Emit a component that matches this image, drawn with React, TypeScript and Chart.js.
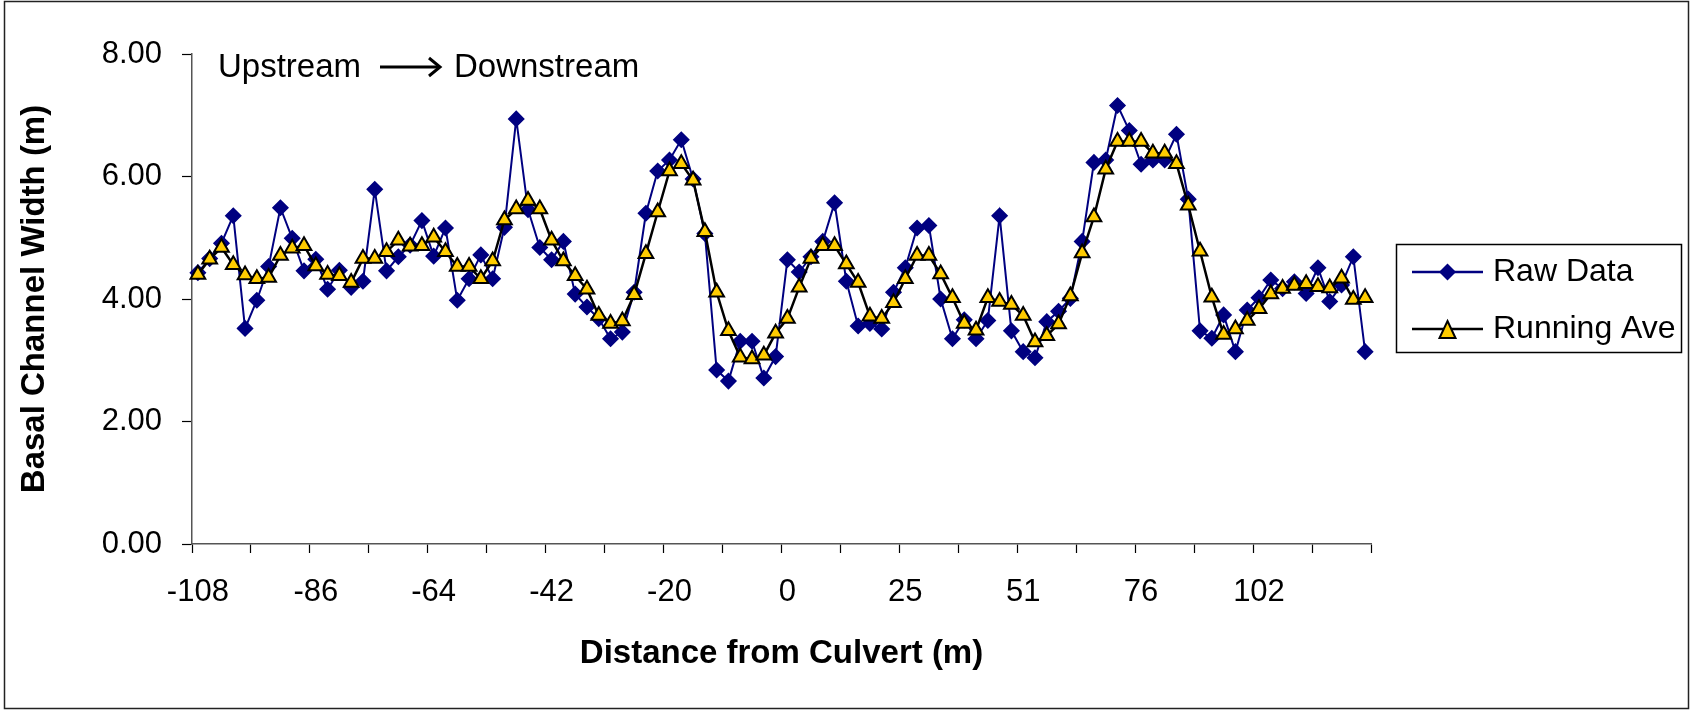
import React, { useEffect, useRef } from 'react';
import { Chart, registerables } from 'chart.js';

Chart.register(...registerables);

// Category labels: distance from culvert (m)
const distances = [
  -108, -106, -104, -101, -99, -97, -95, -93, -90, -88,
  -86, -84, -82, -79, -77, -75, -73, -71, -68, -66,
  -64, -62, -60, -57, -55, -53, -51, -49, -46, -44,
  -42, -40, -38, -35, -33, -31, -29, -27, -24, -22,
  -20, -18, -16, -14, -12, -10, -8, -6, -4, -2,
  0, 3, 5, 8, 10, 13, 15, 18, 20, 23,
  25, 28, 30, 33, 36, 38, 41, 43, 46, 48,
  51, 53, 56, 58, 61, 63, 66, 68, 71, 73,
  76, 79, 81, 84, 86, 89, 91, 94, 97, 99,
  102, 104, 107, 109, 112, 114, 117, 119, 122, 124,
];

const rawData = [
  4.43, 4.66, 4.91, 5.36, 3.52, 3.98, 4.53, 5.49, 4.99, 4.46,
  4.65, 4.16, 4.47, 4.19, 4.29, 5.79, 4.46, 4.69, 4.88, 5.28,
  4.70, 5.16, 3.98, 4.33, 4.72, 4.33, 5.17, 6.94, 5.46, 4.84,
  4.64, 4.94, 4.08, 3.87, 3.68, 3.35, 3.46, 4.11, 5.40, 6.09,
  6.27, 6.60, 5.96, 5.07, 2.84, 2.66, 3.31, 3.31, 2.71, 3.06,
  4.64, 4.44, 4.69, 4.94, 5.57, 4.29, 3.56, 3.60, 3.51, 4.11,
  4.51, 5.16, 5.20, 4.00, 3.35, 3.66, 3.35, 3.65, 5.36, 3.48,
  3.14, 3.04, 3.63, 3.80, 4.01, 4.94, 6.23, 6.27, 7.16, 6.75,
  6.20, 6.27, 6.27, 6.69, 5.63, 3.48, 3.36, 3.74, 3.14, 3.82,
  4.02, 4.31, 4.17, 4.28, 4.09, 4.51, 3.96, 4.23, 4.69, 3.14,
];

const runningAve = [
  4.40, 4.65, 4.84, 4.56, 4.39, 4.33, 4.35, 4.71, 4.83, 4.87,
  4.54, 4.40, 4.38, 4.27, 4.66, 4.66, 4.77, 4.96, 4.86, 4.87,
  5.01, 4.77, 4.53, 4.53, 4.33, 4.62, 5.29, 5.47, 5.61, 5.47,
  4.96, 4.62, 4.38, 4.16, 3.73, 3.60, 3.64, 4.07, 4.74, 5.42,
  6.09, 6.21, 5.94, 5.10, 4.11, 3.48, 3.05, 3.02, 3.08, 3.44,
  3.68, 4.19, 4.66, 4.87, 4.87, 4.57, 4.27, 3.72, 3.68, 3.94,
  4.33, 4.71, 4.71, 4.41, 4.02, 3.60, 3.49, 4.02, 3.96, 3.91,
  3.73, 3.30, 3.40, 3.59, 4.05, 4.75, 5.34, 6.12, 6.57, 6.57,
  6.57, 6.38, 6.38, 6.21, 5.53, 4.78, 4.03, 3.42, 3.51, 3.65,
  3.84, 4.08, 4.17, 4.22, 4.25, 4.20, 4.18, 4.34, 3.99, 4.02,
];

const seriesNames = ['Raw Data', 'Running Ave'];
const xTitle = 'Distance from Culvert (m)';
const yTitle = 'Basal Channel Width (m)';
const noteLeft = 'Upstream';
const noteRight = 'Downstream';

const FONT = '"Liberation Sans", Arial, sans-serif';
const NAVY = '#000080';
const GOLD = '#FFCC00';

const decorPlugin = {
  id: 'decor',
  afterDraw(chart: any) {
    const ctx = chart.ctx as CanvasRenderingContext2D;
    ctx.save();
    // chart area frame
    ctx.strokeStyle = '#222';
    ctx.lineWidth = 1.5;
    ctx.strokeRect(4.5, 1.5, 1684, 707);

    // Upstream -> Downstream note
    ctx.fillStyle = '#000';
    ctx.font = `33px ${FONT}`;
    ctx.textBaseline = 'alphabetic';
    ctx.textAlign = 'left';
    ctx.fillText(noteLeft, 218, 77);
    ctx.fillText(noteRight, 454, 77);
    ctx.strokeStyle = '#000';
    ctx.lineWidth = 3;
    ctx.beginPath();
    ctx.moveTo(380, 67);
    ctx.lineTo(439, 67);
    ctx.stroke();
    ctx.beginPath();
    ctx.moveTo(429, 58);
    ctx.lineTo(440, 67);
    ctx.lineTo(429, 76);
    ctx.stroke();

    // legend frame
    ctx.lineWidth = 1.5;
    ctx.strokeStyle = '#000';
    ctx.strokeRect(1396.5, 244.5, 285, 108);
    ctx.restore();
  },
};

const legendPlugin = {
  id: 'customLegend',
  afterDraw(chart: any) {
    const ctx = chart.ctx as CanvasRenderingContext2D;
    ctx.save();
    // Raw Data
    const y1 = 272;
    ctx.strokeStyle = NAVY;
    ctx.lineWidth = 2.5;
    ctx.beginPath();
    ctx.moveTo(1412, y1);
    ctx.lineTo(1483, y1);
    ctx.stroke();
    ctx.fillStyle = NAVY;
    ctx.beginPath();
    ctx.moveTo(1447.5, y1 - 8.5);
    ctx.lineTo(1456, y1);
    ctx.lineTo(1447.5, y1 + 8.5);
    ctx.lineTo(1439, y1);
    ctx.closePath();
    ctx.fill();
    // Running Ave
    const y2 = 329;
    ctx.strokeStyle = '#000';
    ctx.lineWidth = 2.5;
    ctx.beginPath();
    ctx.moveTo(1412, y2);
    ctx.lineTo(1483, y2);
    ctx.stroke();
    ctx.fillStyle = GOLD;
    ctx.lineWidth = 2;
    ctx.beginPath();
    ctx.moveTo(1447.5, 321);
    ctx.lineTo(1455.5, 338);
    ctx.lineTo(1439.5, 338);
    ctx.closePath();
    ctx.fill();
    ctx.stroke();
    // texts
    ctx.fillStyle = '#000';
    ctx.font = `32px ${FONT}`;
    ctx.textAlign = 'left';
    ctx.textBaseline = 'middle';
    ctx.fillText(seriesNames[0], 1493, y1);
    ctx.fillText(seriesNames[1], 1493, y2);
    ctx.restore();
  },
};

export default function App() {
  const canvasRef = useRef<HTMLCanvasElement | null>(null);

  useEffect(() => {
    if (!canvasRef.current) return;
    Chart.defaults.font.family = FONT;
    Chart.defaults.color = '#000';
    const chart = new Chart(canvasRef.current, {
      type: 'line',
      data: {
        labels: distances.map(String),
        datasets: [
          {
            label: seriesNames[0],
            data: rawData,
            borderColor: NAVY,
            backgroundColor: NAVY,
            borderWidth: 2,
            pointStyle: 'rectRot',
            pointRadius: 7.5,
            pointBorderWidth: 1.5,
            pointBackgroundColor: NAVY,
            pointBorderColor: NAVY,
            tension: 0,
            order: 1,
          },
          {
            label: seriesNames[1],
            data: runningAve,
            borderColor: '#000',
            backgroundColor: GOLD,
            borderWidth: 2.5,
            pointStyle: 'triangle',
            pointRadius: 8.5,
            pointBorderWidth: 2,
            pointBackgroundColor: GOLD,
            pointBorderColor: '#000',
            tension: 0,
            order: 0,
          },
        ],
      },
      options: {
        animation: false,
        responsive: false,
        devicePixelRatio: 1,
        layout: { padding: { left: 0, top: 54, right: 321, bottom: 0 } },
        plugins: {
          legend: { display: false },
          tooltip: { enabled: false },
        },
        scales: {
          x: {
            type: 'category',
            offset: true,
            grid: {
              offset: true,
              drawOnChartArea: false,
              drawTicks: true,
              tickLength: 9,
              tickWidth: 1.2,
              tickColor: (c: any) =>
                c.type !== 'tick' || c.index % 5 === 0 ? '#000' : 'rgba(0,0,0,0)',
            },
            border: { display: true, color: '#555', width: 1.5 },
            ticks: {
              autoSkip: false,
              maxRotation: 0,
              minRotation: 0,
              padding: 21,
              font: { size: 31 },
              color: '#000',
              callback: function (this: any, value: any, index: number) {
                return index % 10 === 0 ? this.getLabelForValue(value) : '';
              },
            },
            title: {
              display: true,
              text: xTitle,
              font: { size: 33, weight: 'bold' },
              color: '#000',
              padding: { top: 0, bottom: 39 },
            },
            afterFit: (s: any) => {
              s.height = 169;
            },
          },
          y: {
            min: 0,
            max: 8,
            grid: {
              drawOnChartArea: false,
              drawTicks: true,
              tickLength: 10,
              tickWidth: 1.2,
              tickColor: '#000',
            },
            border: { display: true, color: '#555', width: 1.5 },
            ticks: {
              stepSize: 2,
              padding: 20,
              font: { size: 31 },
              color: '#000',
              callback: (v: any) => Number(v).toFixed(2),
            },
            title: {
              display: true,
              text: yTitle,
              font: { size: 33, weight: 'bold' },
              color: '#000',
              padding: { top: 15, bottom: 0 },
            },
            afterFit: (s: any) => {
              s.width = 192;
            },
          },
        },
      },
      plugins: [decorPlugin, legendPlugin],
    });
    return () => chart.destroy();
  }, []);

  return (
    <div style={{ position: 'absolute', left: 0, top: 0, width: 1692, height: 713, background: '#fff' }}>
      <canvas ref={canvasRef} width={1692} height={713} style={{ display: 'block' }} />
    </div>
  );
}
